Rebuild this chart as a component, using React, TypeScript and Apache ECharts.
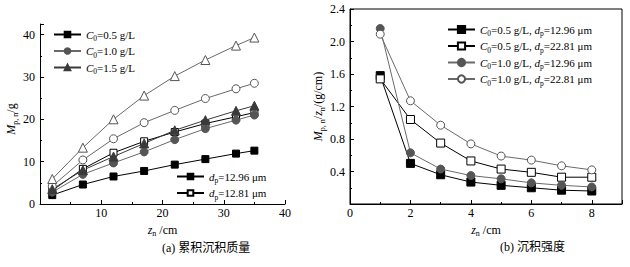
import React, { useEffect, useRef } from "react";
import * as echarts from "echarts";

// ---- data ----
const leftX = [2, 7, 12, 17, 22, 27, 32, 35];
const leftC05d1296 = [2.1, 4.6, 6.5, 7.8, 9.3, 10.6, 11.9, 12.6];
const leftC05d2281 = [3.2, 8.3, 12.1, 14.8, 17.0, 19.0, 20.6, 21.6];
const leftC10d1296 = [2.8, 7.0, 9.7, 12.3, 15.2, 17.8, 19.8, 21.0];
const leftC10d2281 = [4.2, 10.4, 15.4, 19.2, 22.1, 24.9, 27.2, 28.5];
const leftC15d1296 = [3.5, 8.0, 11.2, 14.3, 17.4, 19.8, 22.0, 23.2];
const leftC15d2281 = [5.9, 13.3, 20.0, 25.6, 30.2, 34.0, 37.4, 39.3];

const rightX = [1, 2, 3, 4, 5, 6, 7, 8];
const rightC05d1296 = [1.58, 0.5, 0.36, 0.27, 0.23, 0.2, 0.17, 0.16];
const rightC05d2281 = [1.54, 1.04, 0.75, 0.53, 0.43, 0.39, 0.33, 0.33];
const rightC10d1296 = [2.16, 0.63, 0.43, 0.35, 0.31, 0.26, 0.23, 0.21];
const rightC10d2281 = [2.09, 1.27, 0.97, 0.74, 0.59, 0.54, 0.47, 0.42];

const legendC0 = ["C0=0.5 g/L", "C0=1.0 g/L", "C0=1.5 g/L"];
const legendDp = ["dp=12.96 μm", "dp=12.81 μm"];
const rightNames = [
  "C0=0.5 g/L, dp=12.96 μm",
  "C0=0.5 g/L, dp=22.81 μm",
  "C0=1.0 g/L, dp=12.96 μm",
  "C0=1.0 g/L, dp=22.81 μm",
];
const captionA = "(a) 累积沉积质量";
const captionB = "(b) 沉积强度";

const SERIF = "'Liberation Serif', 'Times New Roman', serif";
const CJK = "'Liberation Serif', 'Noto Sans CJK SC', serif";

const zip = (xs: number[], ys: number[]) => xs.map((x, i) => [x, ys[i]]);

const richStyles = {
  i: { fontStyle: "italic", fontFamily: SERIF, fontSize: 12, color: "#000" },
  s: { fontFamily: SERIF, fontSize: 8, color: "#000", padding: [8, 0, 0, 0] },
  n: { fontFamily: SERIF, fontSize: 12, color: "#000" },
};
const legendRich = {
  i: { fontStyle: "italic", fontFamily: SERIF, fontSize: 11, color: "#000" },
  s: { fontFamily: SERIF, fontSize: 7.5, color: "#000", padding: [8, 0, 0, 0] },
  n: { fontFamily: SERIF, fontSize: 11, color: "#000" },
};

const toRich = (name: string) =>
  ("{n|" +
    name.replace(/C0/g, "}{i|C}{s|0}{n|").replace(/dp/g, "}{i|d}{s|p}{n|") +
    "}").replace(/\{n\|\}/g, "");

// marker styles
const BLACK = "#000";
const GRAY = "#555";
const GRAYLINE = "#6a6a6a";
const DARK = "#3a3a3a";

function mk(
  name: string,
  data: number[][],
  symbol: string,
  size: number,
  fill: string,
  border: string,
  line: string,
  xi: number,
  yi: number
) {
  return {
    type: "line",
    name,
    data,
    xAxisIndex: xi,
    yAxisIndex: yi,
    symbol,
    symbolSize: size,
    showSymbol: true,
    lineStyle: { color: line, width: 1 },
    itemStyle: { color: fill, borderColor: border, borderWidth: 1, opacity: 1 },
    emphasis: { disabled: true },
    silent: true,
  };
}

export default function App() {
  const ref = useRef<HTMLDivElement>(null);
  useEffect(() => {
    if (!ref.current) return;
    const chart = echarts.init(ref.current, undefined, { renderer: "svg" });

    const axisCommon = {
      axisLine: { show: true, lineStyle: { color: "#000", width: 1 } },
      axisTick: { show: true, inside: true, length: 4, lineStyle: { color: "#000" } },
      minorTick: { show: true, splitNumber: 2, length: 2, lineStyle: { color: "#000" } },
      splitLine: { show: false },
      axisLabel: { color: "#000", fontFamily: SERIF, fontSize: 12 },
    };

    const legendText = {
      color: "#000",
      fontFamily: SERIF,
      fontSize: 11,
      rich: legendRich,
    };

    const option: any = {
      animation: false,
      backgroundColor: "#fff",
      grid: [
        { left: 40, right: 345, top: 24, bottom: 63, show: false },
        {
          left: 350,
          right: 8,
          top: 9,
          bottom: 63,
          show: true,
          borderColor: "#000",
          borderWidth: 1,
          backgroundColor: "transparent",
        },
      ],
      xAxis: [
        {
          ...axisCommon,
          type: "value",
          gridIndex: 0,
          min: 0,
          max: 40,
          interval: 10,
          axisLabel: { ...axisCommon.axisLabel, margin: 3, showMinLabel: false },
          name: "{i|z}{s|n}{n| /cm}",
          nameLocation: "middle",
          nameGap: 16,
          nameTextStyle: { rich: richStyles },
        },
        {
          ...axisCommon,
          type: "value",
          gridIndex: 1,
          min: 0,
          max: 9,
          interval: 2,
          axisLabel: {
            ...axisCommon.axisLabel,
            margin: 3,
            formatter: (v: number) => (v % 2 === 0 ? String(v) : ""),
          },
          name: "{i|z}{s|n}{n| /cm}",
          nameLocation: "middle",
          nameGap: 16,
          nameTextStyle: { rich: richStyles },
        },
      ],
      yAxis: [
        {
          ...axisCommon,
          type: "value",
          gridIndex: 0,
          min: 0,
          max: 42.5,
          interval: 10,
          axisLabel: {
            ...axisCommon.axisLabel,
            margin: 5,
            formatter: (v: number) => (v % 10 === 0 ? String(v) : ""),
          },
          name: "{i|M}{s|p, n}{n|/g}",
          nameLocation: "middle",
          nameGap: 20,
          nameTextStyle: { rich: richStyles, padding: [0, 10, 0, 0] },
        },
        {
          ...axisCommon,
          type: "value",
          gridIndex: 1,
          min: 0,
          max: 2.4,
          interval: 0.4,
          axisLabel: {
            ...axisCommon.axisLabel,
            margin: 5,
            formatter: (v: number) => (v === 0 ? "" : v.toFixed(1)),
          },
          name: "{i|M}{s|p, n}{n|/}{i|z}{s|n}{n|/(g/cm)}",
          nameLocation: "middle",
          nameGap: 19,
          nameTextStyle: { rich: richStyles },
        },
      ],
      legend: [
        {
          orient: "vertical",
          left: 48,
          top: 24,
          itemWidth: 27,
          itemHeight: 7,
          itemGap: 3,
          selectedMode: false,
          data: legendC0,
          formatter: toRich,
          textStyle: legendText,
        },
        {
          orient: "vertical",
          left: 171,
          top: 166,
          itemWidth: 27,
          itemHeight: 7,
          itemGap: 3,
          selectedMode: false,
          data: legendDp,
          formatter: toRich,
          textStyle: legendText,
        },
        {
          orient: "vertical",
          left: 442,
          top: 19,
          itemWidth: 27,
          itemHeight: 9,
          itemGap: 3,
          selectedMode: false,
          data: rightNames,
          formatter: toRich,
          textStyle: legendText,
        },
      ],
      series: [
        // left chart
        mk("L1", zip(leftX, leftC05d1296), "rect", 7, BLACK, BLACK, BLACK, 0, 0),
        mk("L2", zip(leftX, leftC05d2281), "rect", 7, "#fff", BLACK, BLACK, 0, 0),
        mk("L3", zip(leftX, leftC10d1296), "circle", 8, GRAY, GRAY, GRAYLINE, 0, 0),
        mk("L4", zip(leftX, leftC10d2281), "circle", 8, "#fff", GRAY, GRAYLINE, 0, 0),
        mk("L5", zip(leftX, leftC15d1296), "triangle", 9, DARK, DARK, DARK, 0, 0),
        mk("L6", zip(leftX, leftC15d2281), "triangle", 9, "#fff", GRAY, GRAYLINE, 0, 0),
        // left legends (keys)
        mk(legendC0[0], [], "rect", 7, BLACK, BLACK, BLACK, 0, 0),
        mk(legendC0[1], [], "circle", 8, GRAY, GRAY, GRAYLINE, 0, 0),
        mk(legendC0[2], [], "triangle", 9, DARK, DARK, DARK, 0, 0),
        mk(legendDp[0], [], "rect", 7, BLACK, BLACK, BLACK, 0, 0),
        mk(legendDp[1], [], "rect", 7, "#fff", BLACK, BLACK, 0, 0),
        // right chart
        mk(rightNames[0], zip(rightX, rightC05d1296), "rect", 8, BLACK, BLACK, BLACK, 1, 1),
        mk(rightNames[1], zip(rightX, rightC05d2281), "rect", 8, "#fff", BLACK, BLACK, 1, 1),
        mk(rightNames[2], zip(rightX, rightC10d1296), "circle", 8, GRAY, GRAY, GRAYLINE, 1, 1),
        mk(rightNames[3], zip(rightX, rightC10d2281), "circle", 8, "#fff", GRAY, GRAYLINE, 1, 1),
      ],
      graphic: [
        {
          type: "text",
          left: 162,
          top: 242,
          style: { text: captionA, font: `12px ${CJK}`, fill: "#000", textAlign: "center" },
        },
        {
          type: "text",
          left: 500,
          top: 241,
          style: { text: captionB, font: `12px ${CJK}`, fill: "#000", textAlign: "center" },
        },
      ],
    };
    chart.setOption(option);
    return () => chart.dispose();
  }, []);
  return (
    <div
      ref={ref}
      style={{ position: "fixed", left: 0, top: 0, width: 630, height: 267, background: "#fff" }}
    />
  );
}
